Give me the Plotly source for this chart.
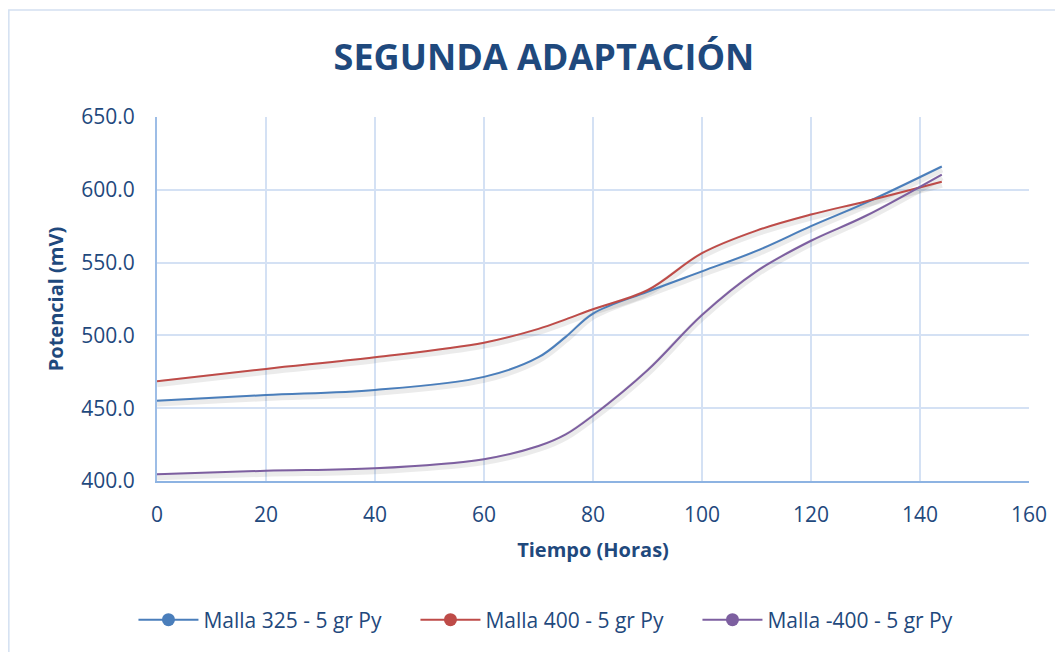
import numpy as np
import plotly.graph_objects as go

# Data
tiempo = [0, 20, 40, 60, 70, 75, 80, 90, 100, 110, 120, 130, 144]
malla_325 = [455.2, 459, 462.5, 471.5, 485, 499, 515, 530, 544, 558, 575, 591, 616]
malla_400 = [468.5, 477, 485, 495, 504.5, 511, 518, 531, 556.5, 572, 583, 592, 605.5]
malla_m400 = [404.7, 407, 408.7, 415, 424, 432, 445, 476, 514, 544, 565, 582, 610.5]

series = [
    ("Malla 325 - 5 gr Py", malla_325, "#4A7EBB"),
    ("Malla 400 - 5 gr Py", malla_400, "#BE4B48"),
    ("Malla -400 - 5 gr Py", malla_m400, "#7D5FA0"),
]

TXT = "#1F497D"
W, H = 1055, 644  # page body has an 8px margin
fig = go.Figure()

# soft shadows beneath lines
for name, ys, col in series:
    fig.add_trace(go.Scatter(
        x=tiempo, y=np.array(ys) - 1.7, mode="lines",
        line=dict(color="rgba(0,0,0,0.08)", width=7, shape="spline", smoothing=1.0),
        showlegend=False, hoverinfo="skip"))

for name, ys, col in series:
    fig.add_trace(go.Scatter(
        x=tiempo, y=ys, mode="lines", name=name,
        line=dict(color=col, width=2, shape="spline", smoothing=1.0),
        showlegend=False))

# legend entries (line + marker symbol)
for name, ys, col in series:
    fig.add_trace(go.Scatter(
        x=[None], y=[None], mode="lines+markers", name=name,
        line=dict(color=col, width=2),
        marker=dict(color=col, size=13, symbol="circle"),
        showlegend=True))

fig.update_layout(
    width=W, height=H,
    paper_bgcolor="white", plot_bgcolor="white",
    margin=dict(l=149, r=34, t=109, b=171),
    title=dict(text="<b>SEGUNDA ADAPTACIÓN</b>", x=(544 - 8) / W, xanchor="center",
               y=1 - 49 / H, yanchor="middle", yref="container",
               font=dict(family="Open Sans", size=36, color=TXT)),
    font=dict(family="Open Sans", color=TXT),
    xaxis=dict(range=[0, 160], dtick=20, tick0=0,
               showgrid=True, gridcolor="#D4E1F4", gridwidth=2,
               showline=True, linecolor="#8DB3E2", linewidth=2,
               zeroline=False, ticks="", ticklabelstandoff=14,
               tickfont=dict(size=21, color=TXT),
               title=dict(text="<b>Tiempo (Horas)</b>", standoff=16,
                          font=dict(size=20, color=TXT))),
    yaxis=dict(range=[400, 650], dtick=50, tick0=400, tickformat=".1f",
               showgrid=True, gridcolor="#D4E1F4", gridwidth=2,
               showline=True, linecolor="#9DBDE6", linewidth=2,
               zeroline=False, ticks="", ticklabelstandoff=16,
               tickfont=dict(size=21, color=TXT),
               title=dict(text="<b>Potencial (mV)</b>", standoff=12,
                          font=dict(size=20, color=TXT))),
    legend=dict(orientation="h", x=(556 - 157) / 871, xanchor="center",
                y=(481 - 620) / 364, yanchor="middle",
                font=dict(size=21, color=TXT), entrywidth=207, entrywidthmode="pixels",
                itemwidth=60),
    shapes=[dict(type="rect", xref="paper", yref="paper",
                 x0=(9 - 157) / 871, x1=(1080 - 157) / 871,
                 y0=(481 - 680) / 364, y1=(481 - 10) / 364,
                 line=dict(color="#D3E0F1", width=1.5), layer="below")],
)

fig.write_html("out.html")
